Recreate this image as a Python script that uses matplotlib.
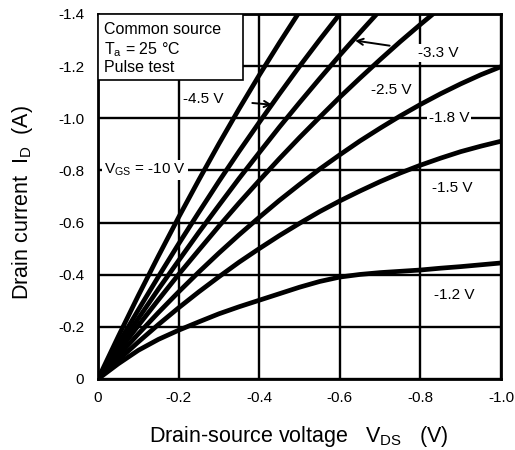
import matplotlib
matplotlib.use("Agg")
import matplotlib.pyplot as plt
from matplotlib.patches import Rectangle

plt.rcParams['font.family'] = ['Liberation Sans', 'DejaVu Sans']
plt.rcParams['mathtext.fontset'] = 'custom'
plt.rcParams['mathtext.rm'] = 'Liberation Sans'

# Drain-source voltage grid (V)
vds = [0.0, -0.05, -0.10, -0.15, -0.20, -0.25, -0.30, -0.35, -0.40, -0.45, -0.50,
       -0.55, -0.60, -0.65, -0.70, -0.75, -0.80, -0.85, -0.90, -0.95, -1.00]

# Drain current (A) for each gate-source voltage
id_vgs_10 = [0.0, -0.162, -0.320, -0.472, -0.620, -0.763, -0.902, -1.036, -1.165,
             -1.289, -1.409, -1.524]
id_vgs_4_5 = [0.0, -0.134, -0.265, -0.393, -0.518, -0.639, -0.758, -0.873, -0.984,
              -1.093, -1.199, -1.301, -1.400, -1.496]
id_vgs_3_3 = [0.0, -0.117, -0.232, -0.345, -0.454, -0.562, -0.666, -0.769, -0.868,
              -0.966, -1.060, -1.152, -1.242, -1.329, -1.414, -1.496]
id_vgs_2_5 = [0.0, -0.104, -0.205, -0.304, -0.401, -0.494, -0.586, -0.675, -0.761,
              -0.845, -0.926, -1.004, -1.081, -1.154, -1.225, -1.294, -1.360, -1.424,
              -1.485]
id_vgs_1_8 = [0.0, -0.088, -0.173, -0.255, -0.334, -0.410, -0.483, -0.553, -0.620,
              -0.685, -0.746, -0.805, -0.860, -0.913, -0.962, -1.009, -1.053, -1.094,
              -1.132, -1.167, -1.198]
id_vgs_1_5 = [0.0, -0.072, -0.142, -0.209, -0.273, -0.334, -0.392, -0.448, -0.500,
              -0.550, -0.597, -0.642, -0.683, -0.721, -0.757, -0.790, -0.820, -0.847,
              -0.872, -0.893, -0.912]
id_vgs_1_2 = [0.0, -0.058, -0.110, -0.152, -0.187, -0.219, -0.250, -0.277, -0.302,
              -0.327, -0.352, -0.374, -0.391, -0.401, -0.408, -0.413, -0.418, -0.425,
              -0.431, -0.438, -0.445]

curves = [id_vgs_10, id_vgs_4_5, id_vgs_3_3, id_vgs_2_5, id_vgs_1_8, id_vgs_1_5, id_vgs_1_2]

x_ticks = [0.0, -0.2, -0.4, -0.6, -0.8, -1.0]
x_tick_labels = ['0', '-0.2', '-0.4', '-0.6', '-0.8', '-1.0']
y_ticks = [0.0, -0.2, -0.4, -0.6, -0.8, -1.0, -1.2, -1.4]
y_tick_labels = ['0', '-0.2', '-0.4', '-0.6', '-0.8', '-1.0', '-1.2', '-1.4']

fig = plt.figure(figsize=(5.15, 4.5), dpi=100)
ax = fig.add_axes([0.1903, 0.1578, 0.7825, 0.8111])

for cur in curves:
    ax.plot(vds[:len(cur)], cur, color='black', lw=3.4, solid_capstyle='butt', zorder=3)

ax.set_xlim(0, -1.0)
ax.set_ylim(0, -1.4)
ax.set_xticks(x_ticks)
ax.set_xticklabels(x_tick_labels)
ax.set_yticks(y_ticks)
ax.set_yticklabels(y_tick_labels)
ax.tick_params(length=0, labelsize=11)
ax.tick_params(axis='x', pad=9)
ax.tick_params(axis='y', pad=10)
ax.grid(True, color='black', lw=1.7, zorder=1)
ax.set_axisbelow(True)
for sp in ax.spines.values():
    sp.set_linewidth(2.0)
    sp.set_zorder(5)

fig.text(0.581, 0.029, r'Drain-source voltage   $\mathregular{V_{DS}}$   (V)',
         ha='center', va='center', fontsize=15.5)
fig.text(0.043, 0.551, r'Drain current  $\mathregular{I_{D}}$  (A)',
         ha='center', va='center', rotation=90, fontsize=15.5)

# Condition box in the upper-left corner
ax.add_patch(Rectangle((0.0, 0.819), 0.36, 0.181, transform=ax.transAxes,
                       facecolor='white', edgecolor='black', lw=1.2, zorder=6))
ax.text(0.014, 0.958, 'Common source', transform=ax.transAxes, fontsize=11.5,
        va='center', ha='left', zorder=7)
ax.text(0.014, 0.903, r'$\mathregular{T_a}$ = 25 °C', transform=ax.transAxes,
        fontsize=11.5, va='center', ha='left', zorder=7)
ax.text(0.014, 0.853, 'Pulse test', transform=ax.transAxes, fontsize=11.5,
        va='center', ha='left', zorder=7)

lbl = dict(fontsize=11, ha='center', va='center', zorder=7)
wbox = dict(facecolor='white', edgecolor='none', pad=1.5)

ax.annotate('-4.5 V', xy=(-0.432, -1.052), xytext=(-0.2605, -1.075),
            arrowprops=dict(arrowstyle='->', lw=1.4, color='black',
                            shrinkA=19, shrinkB=0, mutation_scale=11),
            **lbl)
ax.annotate('-3.3 V', xy=(-0.638, -1.298), xytext=(-0.844, -1.251),
            arrowprops=dict(arrowstyle='->', lw=1.4, color='black',
                            shrinkA=19, shrinkB=0, mutation_scale=11),
            bbox=wbox, **lbl)
ax.text(-0.727, -1.109, '-2.5 V', **lbl)
ax.text(-0.871, -1.002, '-1.8 V', bbox=wbox, **lbl)
ax.text(-0.878, -0.733, '-1.5 V', **lbl)
ax.text(-0.883, -0.322, '-1.2 V', **lbl)
ax.text(-0.117, -0.802, r'$\mathregular{V_{GS}}$ = -10 V', bbox=wbox, **lbl)

fig.savefig('out.png', dpi=100)
